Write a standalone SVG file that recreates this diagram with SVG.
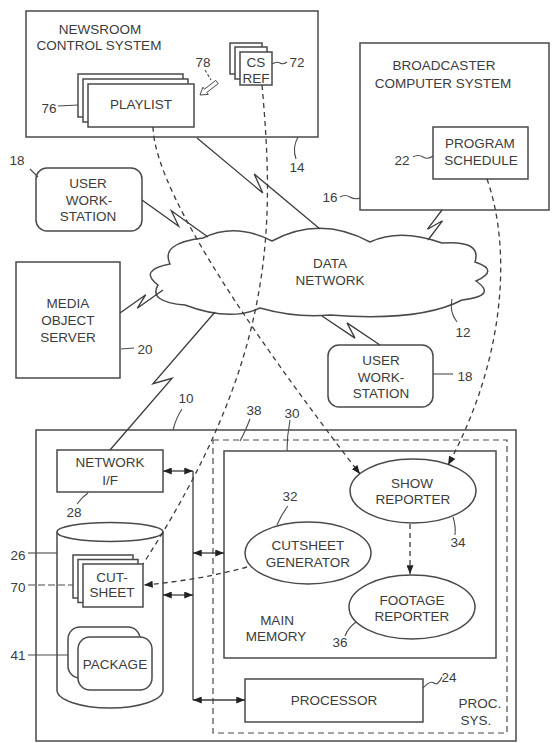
<svg xmlns="http://www.w3.org/2000/svg" width="552" height="743" viewBox="0 0 552 743">
<style>
.box{fill:#fff;stroke:#4a4a4a;stroke-width:1.5}
.frame{fill:none;stroke:#4a4a4a;stroke-width:1.5}
.t{font-family:"Liberation Sans",Arial,sans-serif;font-size:13.5px;fill:#3c3c3c;text-anchor:middle}
.ld{fill:none;stroke:#4a4a4a;stroke-width:1.1}
.zz{fill:none;stroke:#3c3c3c;stroke-width:1.3;stroke-linejoin:miter}
.dsh{fill:none;stroke:#3c3c3c;stroke-width:1.3;stroke-dasharray:5 4}
.bus{fill:none;stroke:#3c3c3c;stroke-width:1.3}
</style>
<defs>
<marker id="ah" viewBox="0 0 10 8" refX="10" refY="4" markerWidth="9" markerHeight="7" markerUnits="userSpaceOnUse" orient="auto-start-reverse">
<path d="M0,0 L10,4 L0,8 Z" fill="#222"/>
</marker>
</defs>
<rect width="552" height="743" fill="#fff"/>

<g id="newsroom">
<rect class="frame" x="26" y="11" width="292" height="126"/>
<text class="t" x="100" y="34">NEWSROOM</text>
<text class="t" x="99" y="50">CONTROL SYSTEM</text>
</g>
<g id="playlist">
<rect class="box" x="78" y="74" width="105" height="43"/>
<rect class="box" x="83" y="79" width="105" height="43"/>
<rect class="box" x="88" y="84" width="106" height="43"/>
<text class="t" x="141" y="109">PLAYLIST</text>
<text class="t" x="49" y="113">76</text>
<path class="ld" d="M58,106 L78,105"/>
</g>
<g id="csref">
<rect class="box" x="230" y="43" width="32" height="31"/>
<rect class="box" x="235" y="47" width="32" height="32"/>
<rect class="box" x="240" y="52" width="32" height="33"/>
<text class="t" x="256" y="67">CS</text>
<text class="t" x="256" y="83">REF</text>
<text class="t" x="297" y="67">72</text>
<path class="ld" d="M272,64 Q277,61 280,63 T287,62"/>
</g>
<g id="arrow78">
<text class="t" x="203" y="67">78</text>
<path class="ld" d="M205,70 L211,80" stroke-dasharray="3 2"/>
<polygon points="218.2,83.6 206.8,92.4 208.3,94.4 200,95 202.9,87.2 204.4,89.2 215.8,80.4" fill="#fff" stroke="#4a4a4a" stroke-width="1"/>
</g>
<g id="label14">
<text class="t" x="297" y="172">14</text>
<path class="ld" d="M298,137 Q292,148 296,159"/>
</g>

<g id="broadcaster">
<rect class="frame" x="360" y="43" width="189" height="167"/>
<text class="t" x="444" y="70">BROADCASTER</text>
<text class="t" x="443" y="88">COMPUTER SYSTEM</text>
<text class="t" x="330" y="202">16</text>
<path class="ld" d="M340,197 Q345,194 350,197 T360,198"/>
</g>
<g id="schedule">
<rect class="box" x="433" y="127" width="95" height="52"/>
<text class="t" x="480" y="148">PROGRAM</text>
<text class="t" x="481" y="165">SCHEDULE</text>
<text class="t" x="402" y="165">22</text>
<path class="ld" d="M413,157 Q418,154 423,157 T433,156"/>
</g>

<g id="workstation1">
<rect class="box" x="36" y="168" width="106" height="63" rx="11"/>
<text class="t" x="88" y="188">USER</text>
<text class="t" x="89" y="205">WORK-</text>
<text class="t" x="88" y="221">STATION</text>
<text class="t" x="17" y="165">18</text>
<path class="ld" d="M30,169 L38,177"/>
</g>

<g id="mediaserver">
<rect class="box" x="16" y="262" width="104" height="116"/>
<text class="t" x="68" y="308">MEDIA</text>
<text class="t" x="68" y="325">OBJECT</text>
<text class="t" x="68" y="342">SERVER</text>
<text class="t" x="145" y="354">20</text>
<path class="ld" d="M121,349 L134,348"/>
</g>

<g id="cloud">
<path class="box" d="M203,238 Q235,222 272,241 Q320,215 370,242 Q400,228 442,243 Q482,240 475,262 Q500,270 476,281 Q498,296 462,300 Q420,322 330,315 Q295,318 260,308 Q230,322 185,305 Q148,302 158,285 Q138,270 170,264 Q160,243 203,238 Z"/>
<text class="t" x="330" y="268">DATA</text>
<text class="t" x="330" y="285">NETWORK</text>
<text class="t" x="463" y="337">12</text>
<path class="ld" d="M452,299 Q449,312 457,322"/>
</g>

<g id="workstation2">
<rect class="box" x="328" y="345" width="105" height="62" rx="11"/>
<text class="t" x="381" y="365">USER</text>
<text class="t" x="381" y="382">WORK-</text>
<text class="t" x="381" y="398">STATION</text>
<text class="t" x="465" y="381">18</text>
<path class="ld" d="M433,374 L453,374"/>
</g>

<g id="system10">
<rect class="frame" x="36" y="430" width="480" height="311"/>
<text class="t" x="186" y="403">10</text>
<path class="ld" d="M182,409 Q176,418 173,430"/>
</g>
<g id="procsys38">
<rect x="213" y="440" width="294" height="293" fill="none" stroke="#4a4a4a" stroke-width="1.2" stroke-dasharray="6 4"/>
<text class="t" x="254" y="415">38</text>
<path class="ld" d="M250,419 Q245,432 240,441"/>
<text class="t" x="480" y="708">PROC.</text>
<text class="t" x="476" y="725">SYS.</text>
</g>
<g id="mainmemory">
<rect class="box" x="224" y="451" width="272" height="207"/>
<text class="t" x="292" y="418">30</text>
<path class="ld" d="M290,420 Q287,436 287,451"/>
<text class="t" x="277" y="625">MAIN</text>
<text class="t" x="276" y="641">MEMORY</text>
</g>
<g id="showreporter">
<ellipse class="box" cx="413" cy="491" rx="63" ry="32"/>
<text class="t" x="412" y="488">SHOW</text>
<text class="t" x="413" y="504">REPORTER</text>
<text class="t" x="458" y="547">34</text>
<path class="ld" d="M453,517 Q456,526 455,535"/>
</g>
<g id="cutsheetgen">
<ellipse class="box" cx="308" cy="553" rx="63" ry="31"/>
<text class="t" x="308" y="550">CUTSHEET</text>
<text class="t" x="308" y="567">GENERATOR</text>
<text class="t" x="290" y="501">32</text>
<path class="ld" d="M288,506 Q281,515 277,525"/>
</g>
<g id="footagereporter">
<ellipse class="box" cx="412" cy="607" rx="63" ry="32"/>
<text class="t" x="412" y="605">FOOTAGE</text>
<text class="t" x="412" y="621">REPORTER</text>
<text class="t" x="340" y="647">36</text>
<path class="ld" d="M345,636 Q348,628 356,622"/>
</g>
<g id="processor">
<rect class="box" x="245" y="679" width="178" height="43"/>
<text class="t" x="334" y="705">PROCESSOR</text>
<text class="t" x="449" y="682">24</text>
<path class="ld" d="M423,688 Q430,680 434,683 T442,677"/>
</g>
<g id="networkif">
<rect class="box" x="57" y="450" width="106" height="42"/>
<text class="t" x="110" y="467">NETWORK</text>
<text class="t" x="110" y="485">I/F</text>
<text class="t" x="74" y="517">28</text>
<path class="ld" d="M77,504 Q82,497 88,493"/>
</g>
<g id="storage">
<path class="box" d="M57,532 V690 A53,18 0 0 0 163,690 V532"/>
<ellipse class="box" cx="110" cy="532" rx="53" ry="9.5"/>
<text class="t" x="18" y="560">26</text>
<path class="ld" d="M28,553 L57,553"/>
</g>
<g id="cutsheet">
<rect class="box" x="73" y="555" width="60" height="43"/>
<rect class="box" x="78" y="559.5" width="60" height="43"/>
<rect class="box" x="83" y="564" width="60" height="43"/>
<text class="t" x="112" y="582">CUT-</text>
<text class="t" x="112" y="597">SHEET</text>
<text class="t" x="18" y="592">70</text>
<path class="ld" d="M28,585 L73,585" stroke-dasharray="7 3"/>
</g>
<g id="package">
<rect class="box" x="68" y="627" width="72" height="51" rx="12"/>
<rect class="box" x="78" y="637" width="74" height="53" rx="12"/>
<text class="t" x="115" y="669">PACKAGE</text>
<text class="t" x="18" y="660">41</text>
<path class="ld" d="M28,655 L68,655"/>
</g>

<g id="connectors">
<polyline class="zz" points="197,138 262.8,192.9 254.2,174.1 320,229"/>
<polyline class="zz" points="142,200 178.7,226.3 171.3,210.7 208,237"/>
<polyline class="zz" points="120,313 145.8,294.7 137.2,308.3 163,290"/>
<polyline class="zz" points="442,210 427.5,229.2 442.5,220.8 428,240"/>
<polyline class="zz" points="322,316 355,338.1 347,322.9 380,345"/>
<polyline class="zz" points="215,312 152.9,383.7 172.1,378.3 110,450"/>
<path class="dsh" d="M153,127 C155,200 280,370 360,474" marker-end="url(#ah)"/>
<path class="dsh" d="M262,85 C275,230 275,360 143,564"/>
<path class="dsh" d="M487,179 C512,250 505,360 448,465" marker-end="url(#ah)"/>
<path class="dsh" d="M247,567 Q200,580 144,585" marker-end="url(#ah)"/>
<path class="dsh" d="M410,524 V574" marker-end="url(#ah)"/>
<path class="bus" d="M193,471 V700"/>
<path class="bus" d="M163,471 H193" marker-start="url(#ah)" marker-end="url(#ah)"/>
<path class="bus" d="M193,553 H224" marker-start="url(#ah)" marker-end="url(#ah)"/>
<path class="bus" d="M163,595 H193" marker-start="url(#ah)" marker-end="url(#ah)"/>
<path class="bus" d="M193,700 H245" marker-start="url(#ah)" marker-end="url(#ah)"/>
</g>
</svg>
